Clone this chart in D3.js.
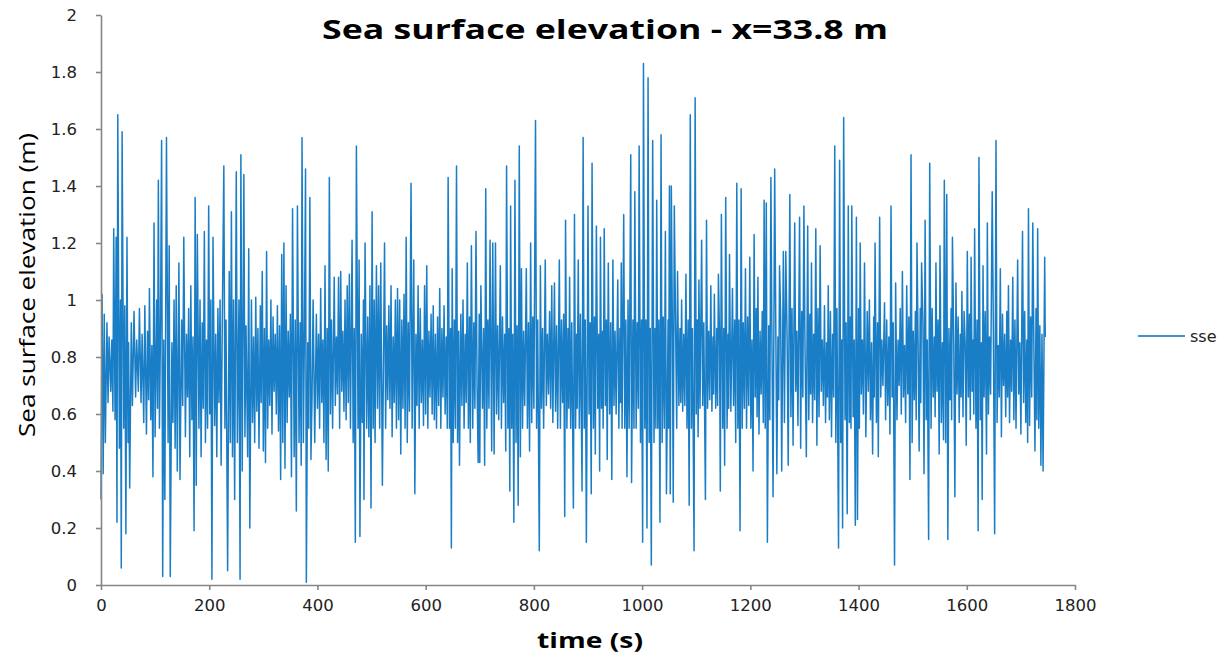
<!DOCTYPE html>
<html>
<head>
<meta charset="utf-8">
<script src="https://cdn.jsdelivr.net/npm/d3@7/dist/d3.min.js"></script>
<style>
html,body{margin:0;padding:0;background:#fff;}
svg{display:block;}
</style>
</head>
<body>
<svg id="chart" width="1225" height="660"></svg>
<script>
const chartTitle = "Sea surface elevation - x=33.8 m";
const xTitle = "time (s)";
const yTitle = "Sea surface elevation (m)";
const seriesName = "sse";
const xTicks = [0, 200, 400, 600, 800, 1000, 1200, 1400, 1600, 1800];
const yTicks = [0, 0.2, 0.4, 0.6, 0.8, 1, 1.2, 1.4, 1.6, 1.8, 2];

// [time (s), sea surface elevation (m)]
const sse = [
[0,0.30],[2,1.02],[4,0.39],[6,0.95],[8,0.50],[11,0.92],[13,0.64],[15,0.87],[18,0.68],[20,0.86],
[22,0.61],[23.5,1.25],[26,0.58],[28,1.22],[29.5,0.22],[31,1.65],[34,0.48],[36,1.0],[37.5,0.06],[39,1.59],
[42,0.55],[44,0.98],[46,0.18],[48,1.22],[50,0.50],[51,0.85],[53,0.34],[56,0.92],[58,0.63],[61,0.96],
[64,0.66],[66,0.86],[69,0.68],[71,0.97],[74,0.64],[76,0.88],[79,0.57],[81,0.98],[84,0.53],[86,0.89],
[88,0.65],[89.5,1.04],[92,0.58],[94,0.84],[96,0.38],[98,1.27],[100,0.52],
[103,1.0],[104.5,0.62],[106,1.42],[108,0.55],[110,0.91],[112,1.56],[114,0.03],[116,0.86],[118,0.30],
[121,1.57],[124,0.5],[126,1.19],[128,0.03],[131,0.85],[133,0.57],[135,1.0],[137,0.48],[139,1.05],[141,0.40],
[144,1.13],[146,0.37],[149,0.93],[151,0.63],[153,1.22],[156,0.52],[158,0.88],[160,0.66],[162,0.97],[164,0.45],
[166,1.05],[168,0.58],[170,0.87],[172,0.19],[174,1.36],[176,0.35],[178,1.23],[181,0.55],[183,1.0],[185,0.45],
[187,0.92],[189,0.62],[191,1.24],[193,0.5],[195,0.86],[197,0.55],[199,1.33],[201,0.6],[203,1.0],[205,0.02],
[207,1.22],[210,0.56],[212,0.88],[214,0.45],[216,0.97],[218,0.64],[220,1.0],[222,0.42],[224,0.89],[227,1.47],
[229,0.55],[231,0.93],[234,0.05],[237,1.1],[239,0.5],[241,1.31],[243,0.45],[245,1.0],[247,0.30],[250,1.45],
[252,0.5],[255,1.0],[257,0.02],[258.5,1.51],[261,0.4],[264,1.44],[266,0.52],[268,0.91],[271,0.45],[273,1.18],
[275,0.2],[278,1.0],[280,0.57],[282,0.87],[284,0.5],[286,1.01],[288,0.61],[290,0.9],[292,0.48],[294.5,0.98],
[296,0.64],[298,1.1],[300,0.47],
[302,0.9],[304,0.43],[306,1.17],[308,0.55],[310,0.86],[312,0.63],[314,1.0],[316,0.53],[318,0.94],[320,0.68],
[322,0.88],[324,0.6],[326,0.98],[328,0.54],[330,0.91],[332,0.37],[334,1.16],[336,0.5],[338,1.2],[340,0.41],
[342,1.05],[344,0.57],[346,0.89],[348,0.66],[350,0.95],[352,0.38],[354,1.32],[357,0.45],[359,0.93],[361,0.26],
[363,1.33],[366,0.5],[368,0.92],[370,0.42],[371.5,1.57],[374,0.5],[376,0.9],[378,1.46],[379.5,0.01],[382,0.85],
[384,0.55],[386,1.36],[388,0.44],[390,0.66],[392,1.0],[395,0.5],[398,0.95],[400,0.62],
[402,0.88],[404,0.55],[406,1.04],[408,0.64],[410,0.86],[412,0.5],[414,1.12],[416,0.44],[418,0.9],[420,0.4],
[422,1.43],[424,0.6],[426,0.93],[428,0.55],[431,1.08],[433,0.63],[435,0.87],[437,0.67],[439,1.08],[441,0.55],
[443,1.1],[445,0.68],[447,0.89],[449,0.61],[451,1.0],[453,0.58],[455,1.05],[457,0.64],[459,1.09],[461,0.55],
[464,1.21],[466,0.5],[468,0.9],[470,0.15],[472,1.54],[475,0.55],[477,1.14],[478.5,0.17],[481,0.88],[483,0.57],
[485,1.0],[486,0.3],[488,1.2],[491,0.55],[493,0.94],[495,0.52],[497,1.05],[499,0.27],[501,1.31],[503,0.55],
[505,1.0],[506.5,0.5],[509,1.12],[511,0.62],[513,1.05],[515,0.55],[517,1.13],[520,0.35],[524,1.2],[526,0.55],
[528,0.91],[530,0.65],[532,0.98],[534,0.62],[536,1.05],[538,0.52],[540,0.87],[542,0.64],[544,1.0],[546,0.55],
[548,1.04],[550,0.58],[552,1.0],[554,0.46],[556,0.93],[558,0.62],[560,1.02],[562,0.55],[564,1.22],[566,0.5],
[568,0.92],[570,0.61],[573,1.41],[575,0.55],[578,1.14],[580,0.32],[582,0.88],[584,0.63],[586,1.05],[588,0.55],
[590,0.97],[592,0.64],[594,0.86],[596,0.56],[598,1.05],[600,0.6],
[602,1.12],[604,0.55],[606,0.89],[608,0.66],[610,0.95],[612,0.6],[614,0.98],[616,0.58],[618,0.88],[620,0.55],
[622,0.94],[624,0.63],[626,1.04],[628,0.55],[630,0.9],[632,0.66],[634,0.98],[636,0.6],[638,0.87],[640,0.55],
[641.5,1.43],[644,0.55],[646,0.9],[647.5,0.13],[649,1.11],[651,0.5],[653,0.93],[655,0.55],[657,1.47],[659,0.5],
[661,0.89],[662.5,0.42],[665,0.95],[667,0.63],[669,1.0],[671,0.55],[673,0.88],[675,0.64],[677,1.13],[679,0.55],
[681,0.94],[682.5,0.5],[684.5,1.19],[687,0.55],[689,0.92],[691,0.62],[693,1.24],[695,0.7],[697,0.43],[699,0.95],
[700,0.43],[702,1.05],[705,0.62],[707,0.9],[709,0.42],[711,1.39],[713,0.55],[715,0.93],[717,0.62],[719,1.21],
[722,0.47],[724,1.2],[726.5,0.46],[729,1.2],[731,0.6],[733,0.91],[735,0.58],[738,1.12],[740,0.55],[742,0.94],
[744,0.64],[746,0.88],[748,0.47],[749.5,1.47],[752,0.55],[754,0.9],[755.5,0.33],[757,1.33],[759,0.55],[761,0.88],
[763,0.22],[765,1.42],[767,0.5],[769,0.91],[771,0.28],[773,1.54],[775,0.45],[777,1.11],[779,0.55],[781,0.89],
[783,0.63],[786,1.11],[788,0.55],[790,0.92],[792,0.47],[794,1.2],[796,0.57],[798,0.94],[800,0.62],
[803,1.63],[805,0.55],[807,0.93],[810,0.12],[812,1.12],[814,0.62],[816,0.9],[818,0.55],[821,1.14],[823,0.63],
[825,0.88],[827,0.67],[829,0.96],[831,0.62],[833,1.05],[835,0.57],[838,1.06],[840,0.61],[842,0.91],[844,0.55],
[847,1.14],[849,0.55],[851,0.93],[853,0.64],[855,0.95],[857,0.24],[858.5,1.28],[861,0.55],[863,0.9],[864.5,0.62],
[866,1.08],[868,0.55],[870,0.92],[873,0.27],[875,1.30],[877,0.55],[879,0.88],[880,0.62],[882,1.14],[884,0.55],
[886,0.95],[889,0.33],[891,1.57],[893,0.55],[895,0.93],[897,0.15],[900,1.33],[902,0.6],
[904,0.92],[906,0.32],[907.5,1.48],[910,0.55],[912,0.94],[913.5,0.46],[915.5,1.26],[918,0.62],[920,0.88],[921.5,0.40],
[923,1.22],[925,0.62],[927,0.89],[928,0.55],[930,1.25],[932,0.63],[934,0.93],[935.5,0.44],[937.5,1.13],[940,0.6],
[942,0.92],[944,0.37],[946,1.14],[948,0.63],[950,0.89],[952,0.6],[955,1.07],[957,0.55],[959,0.9],[960,0.64],
[961.5,1.13],[963,0.55],[966,1.3],[968,0.55],[970,0.93],[972,0.38],[974,1.0],[976,0.55],[979,1.51],[980.5,0.36],
[983,0.93],[985,0.55],[986.5,1.38],[989,0.55],[991,0.92],[993,0.62],[994.5,1.54],[997,0.5],[999,0.93],
[1001,0.15],[1002.5,1.83],[1005,0.55],[1007,0.93],[1009,0.2],[1011,1.78],[1013,0.5],[1015,0.9],[1017,0.07],[1019.5,1.56],
[1022,0.5],[1024,0.9],[1025.5,0.55],[1027,1.35],[1029,0.55],[1031,0.93],[1033,0.22],[1035,1.58],[1037,0.5],[1039,0.94],
[1041,0.55],[1043,1.24],[1045,0.32],[1048,0.93],[1049,0.55],[1050.5,1.4],[1052,0.32],[1054,1.40],[1056,0.88],[1057.5,0.29],
[1059.5,1.33],[1062,0.89],[1064,0.55],[1065.5,1.1],[1068,0.63],[1070,0.9],[1071.5,0.64],[1073,1.0],[1075,0.61],[1077,0.88],
[1079,0.63],[1081,1.09],[1083,0.55],[1085,0.93],[1087,0.28],[1089,1.65],[1091,0.55],[1093,0.9],[1096,0.12],[1098,1.71],
[1100,0.6],[1102,0.93],[1103.5,0.52],[1105,1.07],[1107,0.62],[1110,1.21],[1112,0.63],[1114,0.92],[1117,0.3],[1119,1.28],
[1121,0.62],[1123,0.89],[1125,0.65],[1127,1.05],[1129,0.61],[1131,0.87],[1132,0.67],[1133.5,1.02],[1136,0.62],[1138,0.9],
[1139.5,0.63],[1141,1.09],[1143,0.88],[1144.5,0.33],[1146.5,1.3],[1149,0.55],[1151,0.9],[1152.5,0.42],[1154.5,1.36],[1157,0.55],
[1159,0.88],[1160,0.62],[1161.5,1.16],[1164,0.61],[1167,1.04],[1169,0.63],[1171,0.93],[1173,0.5],[1175,1.41],[1177,0.55],
[1179,0.93],[1181,0.19],[1183,1.39],[1185,0.55],[1187,0.92],[1189,0.62],[1191,1.11],[1193,0.55],[1195,0.94],[1197,0.63],
[1199,1.15],[1201,0.55],
[1203,0.86],[1205,0.4],[1207,1.23],[1209,0.66],[1211,0.97],[1212.5,0.59],[1214,1.08],[1216,0.53],[1218,0.89],[1220,0.67],
[1222,0.96],[1224,0.57],[1225.5,1.35],[1227.5,0.55],[1229.5,1.34],[1231.5,0.15],[1234,0.91],[1236,0.58],[1238,1.43],[1240,0.84],
[1242,0.31],[1245,1.46],[1247,0.92],[1249,0.39],[1251,0.87],[1252.5,0.65],[1254,1.12],[1256,0.95],[1258,0.4],[1261,1.17],
[1263,0.57],[1265.5,1.17],[1268,0.86],[1270,0.42],[1273,1.37],[1275,0.59],[1277,0.97],[1279,0.49],[1282,1.27],[1284,0.68],
[1286,0.89],[1288,0.56],[1291,1.29],[1293,0.48],[1295,0.96],[1297,0.66],[1299,1.33],
[1301,0.84],[1303.5,0.45],[1306,1.26],[1308,0.58],[1310,0.95],[1311.5,0.67],[1313,1.13],[1315,0.57],[1317,0.88],[1319,0.65],
[1321,1.25],[1323,0.49],[1325,0.97],[1327,0.59],[1329,1.19],[1331,0.68],[1333,0.86],[1335,0.63],[1337,0.98],[1339,0.57],
[1341,0.85],[1342.5,0.66],[1344,1.05],[1346,0.58],[1348,0.96],[1350,0.52],[1352,0.88],[1354,0.66],[1356,1.54],[1358,0.5],
[1360,0.97],[1363,0.13],[1365,1.49],[1367,0.5],[1369,0.86],[1370.5,0.2],[1372.5,1.64],[1375,0.58],[1377,0.92],[1379,0.25],
[1381,1.33],[1383,0.57],[1385,0.94],[1386,0.55],[1387.5,1.33],[1390,0.59],[1392,0.86],[1394,0.21],[1396,1.29],[1398,0.23],
[1400,0.97],[1401.5,0.55],[1403,1.2],[1405,0.67],[1407,0.86],[1409,0.6],[1411,1.13],[1413.5,0.52],[1416,0.96],[1418,0.68],
[1420,1.0],[1422,0.58],[1424,0.85],[1426,0.46],[1428,0.94],[1429,0.66],[1430.5,1.2],[1433,0.57],[1435,0.92],[1436.5,0.45],
[1439,1.29],[1441,0.66],[1443,0.86],[1445,0.7],[1448,0.99],[1450,0.58],[1452,0.93],[1454,0.63],[1456,0.87],[1458,0.53],
[1460,1.33],[1462,0.66],[1464,0.92],[1466.5,0.07],[1468.5,1.06],[1471,0.58],[1473,0.86],[1475,0.7],[1477,0.97],[1479,0.6],
[1481,1.1],[1483,0.66],[1485,0.84],[1487,0.57],[1489,1.05],[1491,0.67],[1493,0.94],[1495,0.37],[1497,1.51],[1499,0.5],
[1501,0.89],[1503,0.65],[1505,0.96],[1506.5,0.58],[1508,1.2],[1510,0.85],[1512,0.47],[1514,0.97],[1515,0.64],[1516.5,1.13],
[1519,0.92],[1521,0.39],[1523,1.28],[1525,0.58],[1527,0.86],[1529.5,0.16],[1531.5,1.48],[1534,0.55],[1536,0.97],[1538,0.66],
[1540,0.87],[1541.5,0.59],[1543,1.13],[1545,0.68],[1547,0.93],[1549,0.46],[1550.5,1.19],[1553,0.57],[1555,0.85],[1557,0.51],
[1558.5,1.42],[1561,0.5],[1563,1.37],[1565,0.16],[1567,0.9],[1569,0.65],[1571,0.97],[1572,0.58],[1573.5,1.22],[1576,0.84],
[1578,0.31],[1580,1.06],[1582,0.67],[1584,0.94],[1586,0.57],[1588,0.88],[1589.5,0.66],[1591,1.03],[1593,0.59],[1595,0.96],
[1597,0.85],[1599,0.49],
[1601,1.17],[1603,0.66],[1605,0.95],[1606.5,0.58],[1608,1.15],[1610,0.68],[1612,0.86],[1613,0.6],[1614.5,1.25],[1617,0.55],
[1619,0.93],[1621,0.19],[1622.5,1.5],[1625,0.58],[1627,0.85],[1628.5,0.3],[1630,1.12],[1632,0.66],[1634,0.96],[1636.5,0.46],
[1638,1.27],[1640,0.6],[1642,0.87],[1644,0.67],[1647,1.38],[1649,0.92],[1651.5,0.18],[1654,1.56],[1656,0.57],[1658,0.84],
[1660,0.66],[1662,1.11],[1664,0.52],[1666,0.95],[1668,0.7],[1670,0.88],[1672,0.59],[1674,0.96],[1675.5,0.66],[1677,1.05],
[1679,0.57],[1681,0.86],[1683,0.68],[1685,1.08],[1687,0.58],[1689,0.93],[1691,0.55],[1694,1.14],[1696,0.67],[1698,0.85],
[1700,0.53],[1703,1.24],[1705,0.64],[1707,0.96],[1709,0.57],[1711,0.86],[1712.5,0.5],[1714,1.32],[1716,0.56],[1718,0.94],
[1720,0.66],[1722,1.27],[1724,0.84],[1726,0.47],[1728,0.97],[1729.5,0.58],[1731,1.25],[1733,0.55],[1735,0.91],[1737,0.42],
[1739,0.88],[1741,0.4],[1744,1.15],[1745,0.87]
];

const svg = d3.select("#chart");
svg.append("rect").attr("width", 1225).attr("height", 660).attr("fill", "#fff");

const x = d3.scaleLinear().domain([0, 1800]).range([101, 1075]);
const y = d3.scaleLinear().domain([0, 2]).range([585, 15]);
const axisColor = "#868686";

// line
const line = d3.line().x(d => x(d[0])).y(d => y(d[1]));
svg.append("path")
  .datum(sse)
  .attr("fill", "none")
  .attr("stroke", "#0070C0")
  .attr("stroke-opacity", 0.9)
  .attr("stroke-width", 1.5)
  .attr("stroke-linejoin", "round")
  .attr("d", line);

// y axis
const yAxis = svg.append("g")
  .attr("transform", "translate(101,0)")
  .call(d3.axisLeft(y).tickValues(yTicks).tickSize(5).tickSizeOuter(0).tickPadding(19)
    .tickFormat(d => String(+d.toFixed(1))));
yAxis.select(".domain").attr("stroke", axisColor).attr("stroke-width", 1.6);
yAxis.selectAll(".tick line").attr("stroke", axisColor).attr("stroke-width", 1.6);
yAxis.selectAll(".tick text")
  .attr("font-family", "DejaVu Sans, Verdana, sans-serif")
  .attr("font-size", 16.5)
  .attr("fill", "#222");

// x axis
const xAxis = svg.append("g")
  .attr("transform", "translate(0,585)")
  .call(d3.axisBottom(x).tickValues(xTicks).tickSize(5).tickSizeOuter(0).tickPadding(9)
    .tickFormat(d3.format("d")));
xAxis.select(".domain").attr("stroke", axisColor).attr("stroke-width", 1.6);
xAxis.selectAll(".tick line").attr("stroke", axisColor).attr("stroke-width", 1.6);
xAxis.selectAll(".tick text")
  .attr("font-family", "DejaVu Sans, Verdana, sans-serif")
  .attr("font-size", 16.5)
  .attr("fill", "#222");

// title
svg.append("text")
  .attr("x", 605).attr("y", 39)
  .attr("text-anchor", "middle")
  .attr("font-family", "Open Sans, Liberation Sans, sans-serif")
  .attr("font-weight", "bold")
  .attr("font-size", 27)
  .attr("textLength", 566)
  .attr("lengthAdjust", "spacingAndGlyphs")
  .attr("fill", "#000")
  .text(chartTitle);

// x title
svg.append("text")
  .attr("x", 590).attr("y", 648)
  .attr("text-anchor", "middle")
  .attr("font-family", "Open Sans, Liberation Sans, sans-serif")
  .attr("font-weight", "bold")
  .attr("font-size", 22)
  .attr("textLength", 106)
  .attr("lengthAdjust", "spacingAndGlyphs")
  .attr("fill", "#000")
  .text(xTitle);

// y title
svg.append("text")
  .attr("transform", "translate(35,285) rotate(-90)")
  .attr("text-anchor", "middle")
  .attr("font-family", "Open Sans, Liberation Sans, sans-serif")
  .attr("font-size", 22)
  .attr("textLength", 304)
  .attr("lengthAdjust", "spacingAndGlyphs")
  .attr("fill", "#000")
  .text(yTitle);

// legend
const lg = svg.append("g").attr("transform", "translate(1138,336)");
lg.append("line").attr("x1", 0).attr("x2", 47).attr("y1", 0).attr("y2", 0)
  .attr("stroke", "#0070C0").attr("stroke-width", 1.6);
lg.append("text").attr("x", 52).attr("y", 5.5)
  .attr("font-family", "DejaVu Sans, Verdana, sans-serif")
  .attr("font-size", 16)
  .attr("fill", "#222")
  .text(seriesName);
</script>
</body>
</html>
